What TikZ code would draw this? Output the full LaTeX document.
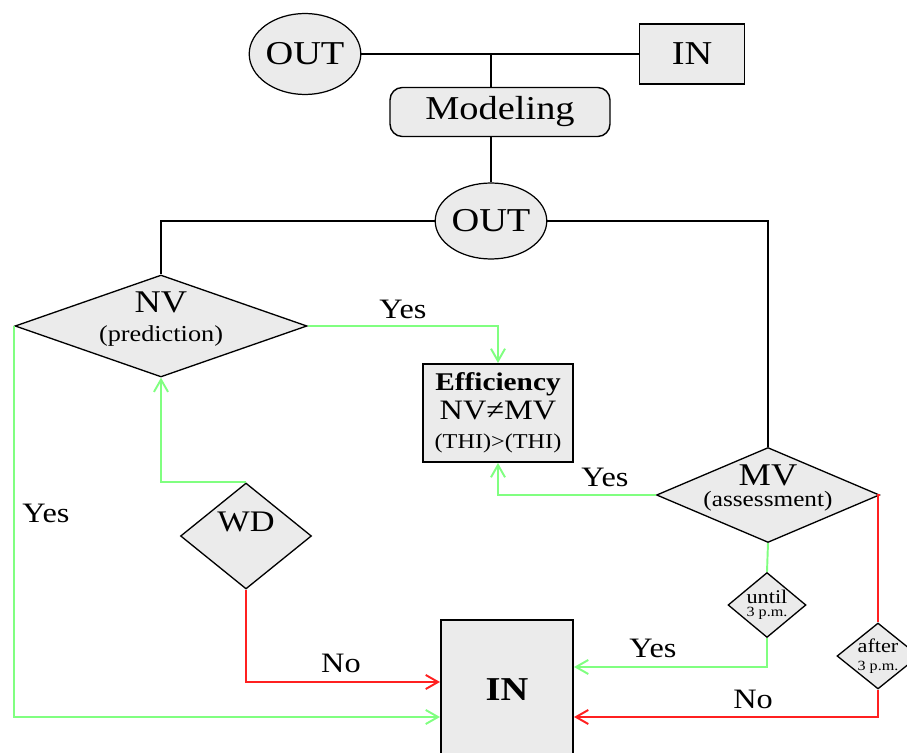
\documentclass[tikz,border=0pt]{standalone}
\usepackage{fontspec}
\setmainfont{Liberation Serif}[FakeStretch=1.15]
\usepackage{tikz}
\usetikzlibrary{shapes.geometric,arrows.meta}
\definecolor{boxgray}{HTML}{EBEBEB}
\definecolor{lgreen}{HTML}{80FF80}
\definecolor{lred}{HTML}{FF2020}
\newcommand{\fsz}[2]{\fontsize{#1}{#2}\selectfont}
\tikzset{
  conn/.style={draw=black, line width=1pt},
  gline/.style={draw=lgreen, line width=1.1pt},
  rline/.style={draw=lred, line width=1.1pt},
  arr/.style={-{Straight Barb[length=7pt,width=8pt]}},
  oval/.style={ellipse, draw, fill=boxgray, inner sep=0pt, line width=0.7pt},
  box/.style={rectangle, draw, fill=boxgray, inner sep=0pt, line width=0.8pt},
  decide/.style={diamond, draw, fill=boxgray, inner sep=0pt, line width=0.75pt},
  lbl/.style={text=black, inner sep=0pt, align=center},
  ans/.style={text=black, font=\fsz{16}{18}}
}
\begin{document}
\begin{tikzpicture}[x=0.02cm, y=-0.02cm]
  \useasboundingbox (0,0) rectangle (907,753);

  % top part
  \node[oval, minimum width=2.08cm, minimum height=1.62cm, font=\fsz{19}{21}] (out1) at (305,54) {OUT};
  \node[box, minimum width=2.1cm, minimum height=1.2cm, font=\fsz{19}{21}] (in1) at (692,54) {IN};
  \node[box, rounded corners=7pt, minimum width=4.4cm, minimum height=0.98cm, font=\fsz{19}{21}] (model) at (500,112) {Modeling};
  \node[oval, minimum width=2.16cm, minimum height=1.52cm, font=\fsz{19}{21}] (out2) at (491,221) {OUT};

  % decisions
  \node[decide, minimum width=5.84cm, minimum height=2.04cm,
    label={[lbl, font=\fsz{13}{16.5}, yshift=4pt]center:{\fsz{18}{16.5}NV\\(prediction)}}] (nv) at (161,326) {};
  \node[decide, minimum width=4.46cm, minimum height=1.9cm,
    label={[lbl, font=\fsz{12.5}{12}, yshift=4pt]center:{\fsz{18}{12}MV\\(assessment)}}] (mv) at (768,495) {};
  \node[decide, minimum width=2.62cm, minimum height=2.12cm,
    label={[lbl, font=\fsz{17}{19}, yshift=8pt]center:{WD}}] (wd) at (246,536) {};
  \node[decide, minimum width=1.56cm, minimum height=1.3cm,
    label={[lbl, font=\fsz{8}{7.5}]center:{\fsz{11}{7.5}until\\3 p.m.}}] (until) at (767,605) {};
  \node[decide, minimum width=1.64cm, minimum height=1.32cm,
    label={[lbl, font=\fsz{8}{10.5}]center:{\fsz{11}{10.5}after\\3 p.m.}}] (after) at (878,656) {};

  % results
  \node[box, line width=1.2pt, minimum width=3cm, minimum height=1.96cm,
    font=\fsz{14.5}{16.5}, align=center] (eff) at (498,413)
    {\textbf{Efficiency}\\\fsz{16}{16.5}NV≠MV\\\fsz{12}{16.5}(THI)>(THI)};
  \node[box, line width=1.2pt, minimum width=2.64cm, minimum height=2.8cm,
    font=\fsz{19}{21}\bfseries] (in2) at (507,690) {IN};

  % black links
  \draw[conn] (out1.east) -- (in1.west);
  \draw[conn] (out2.north |- out1.east) -- (out2.north |- model.north);
  \draw[conn] (out2.north |- model.south) -- (out2.north);
  \draw[conn] (out2.west) -| (nv.north);
  \draw[conn] (out2.east) -| (mv.north);

  % green links
  \draw[gline, arr] (nv.east) -| (eff.north);
  \draw[gline, arr] (nv.west) |- (in2.west |- 0,717);
  \draw[gline, arr] (wd.north) -| (nv.south);
  \draw[gline, arr] (mv.west) -| (eff.south);
  \draw[gline] (mv.south) -- (until.north);
  \draw[gline, arr] (until.south) |- (in2.east |- 0,667);

  % red links
  \draw[rline, arr] (wd.south) |- (in2.west |- 0,682);
  \draw[rline] (mv.east) -| (after.north);
  \draw[rline, arr] (after.south) |- (in2.east |- 0,717);

  % answers
  \node[ans] (yes1) at (403,309) {Yes};
  \node[ans] (yes2) at (46,513) {Yes};
  \node[ans] (yes3) at (605,477) {Yes};
  \node[ans] (yes4) at (653,648) {Yes};
  \node[ans] (no1) at (341,663) {No};
  \node[ans] (no2) at (753,699) {No};
\end{tikzpicture}
\end{document}
